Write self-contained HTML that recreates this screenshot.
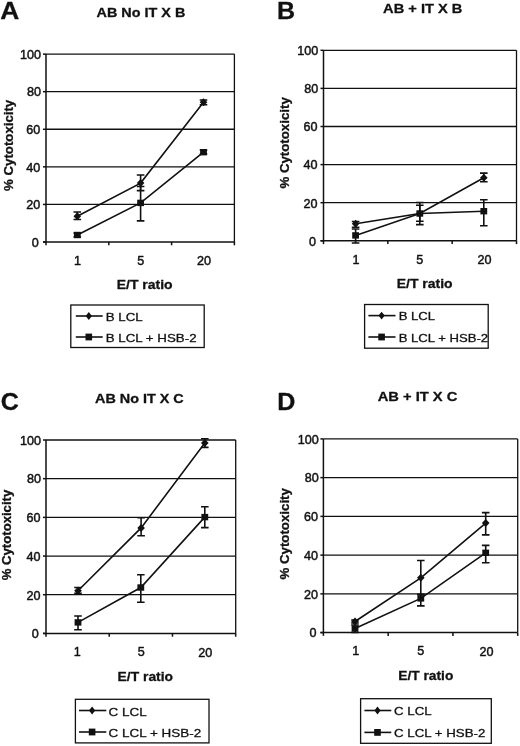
<!DOCTYPE html>
<html><head><meta charset="utf-8"><title>Cytotoxicity figure</title>
<style>
html,body{margin:0;padding:0;background:#fff;}
body{width:520px;height:746px;overflow:hidden;}
svg{display:block;will-change:transform;}
text{font-family:"Liberation Sans", sans-serif;fill:#111;stroke:#111;stroke-width:0.3px;stroke-linejoin:round;}
.tk{font-size:12.6px;stroke-width:0.45px;}
.b13{font-size:13px;font-weight:bold;}
.big{font-size:24.4px;font-weight:bold;}
.lg{font-size:11.6px;}
.g{stroke:#111;stroke-width:1.3;fill:none;}
.ax{stroke:#111;stroke-width:1.5;fill:none;}
.s{stroke:#111;stroke-width:1.6;fill:none;}
.e{stroke:#111;stroke-width:1.6;fill:none;}
.m{fill:#111;stroke:none;}
.lb{fill:none;stroke:#111;stroke-width:1.3;}
</style></head>
<body>
<svg width="520" height="746" viewBox="0 0 520 746">
<line x1="46" y1="204.42" x2="234.4" y2="204.42" class="g"/>
<line x1="46" y1="166.84" x2="234.4" y2="166.84" class="g"/>
<line x1="46" y1="129.26" x2="234.4" y2="129.26" class="g"/>
<line x1="46" y1="91.68" x2="234.4" y2="91.68" class="g"/>
<line x1="46" y1="54.1" x2="234.4" y2="54.1" class="g"/>
<line x1="234.4" y1="54.1" x2="234.4" y2="242" class="g"/>
<line x1="46" y1="54.1" x2="46" y2="245.3" class="ax"/>
<line x1="43" y1="242" x2="234.4" y2="242" class="ax"/>
<line x1="43" y1="242" x2="46" y2="242" class="ax"/>
<text x="31.7" y="246.8" class="tk">0</text>
<line x1="43" y1="204.42" x2="46" y2="204.42" class="ax"/>
<text x="26.3" y="209.22" class="tk">20</text>
<line x1="43" y1="166.84" x2="46" y2="166.84" class="ax"/>
<text x="26.3" y="171.64" class="tk">40</text>
<line x1="43" y1="129.26" x2="46" y2="129.26" class="ax"/>
<text x="26.3" y="134.06" class="tk">60</text>
<line x1="43" y1="91.68" x2="46" y2="91.68" class="ax"/>
<text x="27" y="96.48" class="tk">80</text>
<line x1="43" y1="54.1" x2="46" y2="54.1" class="ax"/>
<text x="20" y="58.9" class="tk">100</text>
<line x1="108.8" y1="242" x2="108.8" y2="245.3" class="ax"/>
<line x1="171.6" y1="242" x2="171.6" y2="245.3" class="ax"/>
<line x1="234.4" y1="242" x2="234.4" y2="245.3" class="ax"/>
<text x="73.9" y="265.3" class="tk">1</text>
<text x="137.2" y="265.3" class="tk">5</text>
<text x="197" y="265.2" class="tk">20</text>
<text x="116.73" y="288.8" class="b13" textLength="55.89" lengthAdjust="spacingAndGlyphs">E/T ratio</text>
<text transform="translate(12.5,190.9) rotate(-90)" x="-0" y="0" class="b13" textLength="91.09" lengthAdjust="spacingAndGlyphs">% Cytotoxicity</text>
<text x="0.32" y="19.3" class="big" textLength="19.06" lengthAdjust="spacingAndGlyphs">A</text>
<text x="96.6" y="17.3" class="b13" textLength="88.69" lengthAdjust="spacingAndGlyphs">AB No IT X B</text>
<polyline class="s" points="77.3,216.2 140.6,183.1 203.5,102.3"/>
<polyline class="s" points="77.3,235 140.6,202.9 203.5,152.2"/>
<path class="e" d="M77.3 212V219.5M73.5 212H81.1M73.5 219.5H81.1"/>
<path class="e" d="M140.6 175V190.6M136.8 175H144.4M136.8 190.6H144.4"/>
<path class="e" d="M203.5 100V104.8M199.7 100H207.3M199.7 104.8H207.3"/>
<path class="e" d="M77.3 233V237M73.5 233H81.1M73.5 237H81.1"/>
<path class="e" d="M140.6 186.5V220.9M136.8 186.5H144.4M136.8 220.9H144.4"/>
<path class="e" d="M203.5 150V154M199.7 150H207.3M199.7 154H207.3"/>
<path class="m" d="M77.3 212.2L81.1 216.2L77.3 220.2L73.5 216.2Z"/>
<path class="m" d="M140.6 179.1L144.4 183.1L140.6 187.1L136.8 183.1Z"/>
<path class="m" d="M203.5 98.3L207.3 102.3L203.5 106.3L199.7 102.3Z"/>
<rect class="m" x="73.9" y="231.8" width="6.8" height="6.4"/>
<rect class="m" x="137.2" y="199.7" width="6.8" height="6.4"/>
<rect class="m" x="200.1" y="149" width="6.8" height="6.4"/>
<rect x="70.8" y="305" width="133.4" height="42.5" class="lb"/>
<line x1="75.8" y1="316" x2="102.7" y2="316" class="s"/>
<line x1="75.8" y1="337" x2="102.7" y2="337" class="s"/>
<path class="m" d="M88.8 312.1L91.9 316L88.8 319.9L85.7 316Z"/>
<rect class="m" x="85.5" y="333.6" width="6.6" height="6.8"/>
<text x="105.65" y="320.8" class="lg" textLength="37.03" lengthAdjust="spacingAndGlyphs">B LCL</text>
<text x="105.65" y="342.1" class="lg" textLength="90.93" lengthAdjust="spacingAndGlyphs">B LCL + HSB-2</text>
<line x1="323.5" y1="202.7" x2="516.5" y2="202.7" class="g"/>
<line x1="323.5" y1="164.6" x2="516.5" y2="164.6" class="g"/>
<line x1="323.5" y1="126.5" x2="516.5" y2="126.5" class="g"/>
<line x1="323.5" y1="88.4" x2="516.5" y2="88.4" class="g"/>
<line x1="323.5" y1="50.3" x2="516.5" y2="50.3" class="g"/>
<line x1="516.5" y1="50.3" x2="516.5" y2="240.8" class="g"/>
<line x1="323.5" y1="50.3" x2="323.5" y2="244.1" class="ax"/>
<line x1="320.5" y1="240.8" x2="516.5" y2="240.8" class="ax"/>
<line x1="320.5" y1="240.8" x2="323.5" y2="240.8" class="ax"/>
<text x="309" y="245.6" class="tk">0</text>
<line x1="320.5" y1="202.7" x2="323.5" y2="202.7" class="ax"/>
<text x="303.6" y="207.5" class="tk">20</text>
<line x1="320.5" y1="164.6" x2="323.5" y2="164.6" class="ax"/>
<text x="303.6" y="169.4" class="tk">40</text>
<line x1="320.5" y1="126.5" x2="323.5" y2="126.5" class="ax"/>
<text x="303.6" y="131.3" class="tk">60</text>
<line x1="320.5" y1="88.4" x2="323.5" y2="88.4" class="ax"/>
<text x="304.3" y="93.2" class="tk">80</text>
<line x1="320.5" y1="50.3" x2="323.5" y2="50.3" class="ax"/>
<text x="297.3" y="55.1" class="tk">100</text>
<line x1="387.83" y1="240.8" x2="387.83" y2="244.1" class="ax"/>
<line x1="452.17" y1="240.8" x2="452.17" y2="244.1" class="ax"/>
<line x1="516.5" y1="240.8" x2="516.5" y2="244.1" class="ax"/>
<text x="352.4" y="263.7" class="tk">1</text>
<text x="416.3" y="263.7" class="tk">5</text>
<text x="477.6" y="263.7" class="tk">20</text>
<text x="396.73" y="288.2" class="b13" textLength="55.89" lengthAdjust="spacingAndGlyphs">E/T ratio</text>
<text transform="translate(288.6,188.6) rotate(-90)" x="-0" y="0" class="b13" textLength="91.39" lengthAdjust="spacingAndGlyphs">% Cytotoxicity</text>
<text x="277.05" y="18.6" class="big" textLength="18.09" lengthAdjust="spacingAndGlyphs">B</text>
<text x="383.1" y="12.5" class="b13" textLength="79.29" lengthAdjust="spacingAndGlyphs">AB + IT X B</text>
<polyline class="s" points="355.6,223.8 419.8,213.5 483.8,177.7"/>
<polyline class="s" points="355.6,235.4 419.8,213.5 483.8,211.2"/>
<path class="e" d="M355.6 221.5V227.3M351.8 221.5H359.4M351.8 227.3H359.4"/>
<path class="e" d="M419.8 205.2V221.3M416 205.2H423.6M416 221.3H423.6"/>
<path class="e" d="M483.8 173.1V181.8M480 173.1H487.6M480 181.8H487.6"/>
<path class="e" d="M355.6 229V243M351.8 229H359.4M351.8 243H359.4"/>
<path class="e" d="M419.8 202.5V224.6M416 202.5H423.6M416 224.6H423.6"/>
<path class="e" d="M483.8 199.7V225.8M480 199.7H487.6M480 225.8H487.6"/>
<path class="m" d="M355.6 219.8L359.4 223.8L355.6 227.8L351.8 223.8Z"/>
<path class="m" d="M419.8 209.5L423.6 213.5L419.8 217.5L416 213.5Z"/>
<path class="m" d="M483.8 173.7L487.6 177.7L483.8 181.7L480 177.7Z"/>
<rect class="m" x="352.2" y="232.2" width="6.8" height="6.4"/>
<rect class="m" x="416.4" y="210.3" width="6.8" height="6.4"/>
<rect class="m" x="480.4" y="208" width="6.8" height="6.4"/>
<rect x="364.6" y="304.5" width="123.6" height="43.7" class="lb"/>
<line x1="368.4" y1="315.6" x2="395.5" y2="315.6" class="s"/>
<line x1="368.4" y1="337" x2="395.5" y2="337" class="s"/>
<path class="m" d="M381.6 311.7L384.7 315.6L381.6 319.5L378.5 315.6Z"/>
<rect class="m" x="378.3" y="333.6" width="6.6" height="6.8"/>
<text x="398.67" y="320.1" class="lg" textLength="36.45" lengthAdjust="spacingAndGlyphs">B LCL</text>
<text x="398.67" y="342.3" class="lg" textLength="89.51" lengthAdjust="spacingAndGlyphs">B LCL + HSB-2</text>
<line x1="46" y1="594.72" x2="235.7" y2="594.72" class="g"/>
<line x1="46" y1="556.04" x2="235.7" y2="556.04" class="g"/>
<line x1="46" y1="517.36" x2="235.7" y2="517.36" class="g"/>
<line x1="46" y1="478.68" x2="235.7" y2="478.68" class="g"/>
<line x1="46" y1="440" x2="235.7" y2="440" class="g"/>
<line x1="235.7" y1="440" x2="235.7" y2="633.4" class="g"/>
<line x1="46" y1="440" x2="46" y2="636.7" class="ax"/>
<line x1="43" y1="633.4" x2="235.7" y2="633.4" class="ax"/>
<line x1="43" y1="633.4" x2="46" y2="633.4" class="ax"/>
<text x="31.8" y="638.2" class="tk">0</text>
<line x1="43" y1="594.72" x2="46" y2="594.72" class="ax"/>
<text x="26.4" y="599.52" class="tk">20</text>
<line x1="43" y1="556.04" x2="46" y2="556.04" class="ax"/>
<text x="26.4" y="560.84" class="tk">40</text>
<line x1="43" y1="517.36" x2="46" y2="517.36" class="ax"/>
<text x="26.4" y="522.16" class="tk">60</text>
<line x1="43" y1="478.68" x2="46" y2="478.68" class="ax"/>
<text x="27.1" y="483.48" class="tk">80</text>
<line x1="43" y1="440" x2="46" y2="440" class="ax"/>
<text x="20.1" y="444.8" class="tk">100</text>
<line x1="109.23" y1="633.4" x2="109.23" y2="636.7" class="ax"/>
<line x1="172.47" y1="633.4" x2="172.47" y2="636.7" class="ax"/>
<line x1="235.7" y1="633.4" x2="235.7" y2="636.7" class="ax"/>
<text x="73.8" y="656.3" class="tk">1</text>
<text x="137.7" y="656.3" class="tk">5</text>
<text x="198.2" y="656.5" class="tk">20</text>
<text x="117.64" y="680.9" class="b13" textLength="55.38" lengthAdjust="spacingAndGlyphs">E/T ratio</text>
<text transform="translate(11.2,580.3) rotate(-90)" x="-0" y="0" class="b13" textLength="90.58" lengthAdjust="spacingAndGlyphs">% Cytotoxicity</text>
<text x="0.87" y="410" class="big" textLength="18.07" lengthAdjust="spacingAndGlyphs">C</text>
<text x="95" y="403" class="b13" textLength="88.69" lengthAdjust="spacingAndGlyphs">AB No IT X C</text>
<polyline class="s" points="78,590.7 141.1,527.9 204.8,443.1"/>
<polyline class="s" points="78,622.4 140.8,587.5 204.8,517.1"/>
<path class="e" d="M78 587.5V593.4M74.2 587.5H81.8M74.2 593.4H81.8"/>
<path class="e" d="M141.1 517.8V535.8M137.3 517.8H144.9M137.3 535.8H144.9"/>
<path class="e" d="M204.8 438.7V447.4M201 438.7H208.6M201 447.4H208.6"/>
<path class="e" d="M78 616V629.8M74.2 616H81.8M74.2 629.8H81.8"/>
<path class="e" d="M140.8 574.8V602.3M137 574.8H144.6M137 602.3H144.6"/>
<path class="e" d="M204.8 506.7V527.6M201 506.7H208.6M201 527.6H208.6"/>
<path class="m" d="M78 586.7L81.8 590.7L78 594.7L74.2 590.7Z"/>
<path class="m" d="M141.1 523.9L144.9 527.9L141.1 531.9L137.3 527.9Z"/>
<path class="m" d="M204.8 439.1L208.6 443.1L204.8 447.1L201 443.1Z"/>
<rect class="m" x="74.6" y="619.2" width="6.8" height="6.4"/>
<rect class="m" x="137.4" y="584.3" width="6.8" height="6.4"/>
<rect class="m" x="201.4" y="513.9" width="6.8" height="6.4"/>
<rect x="75.4" y="699.3" width="133.6" height="43.6" class="lb"/>
<line x1="79" y1="710.5" x2="106.3" y2="710.5" class="s"/>
<line x1="79" y1="732" x2="106.3" y2="732" class="s"/>
<path class="m" d="M92.1 706.6L95.2 710.5L92.1 714.4L89 710.5Z"/>
<rect class="m" x="88.8" y="728.6" width="6.6" height="6.8"/>
<text x="108.64" y="715.5" class="lg" textLength="38.12" lengthAdjust="spacingAndGlyphs">C LCL</text>
<text x="108.64" y="737.4" class="lg" textLength="92.53" lengthAdjust="spacingAndGlyphs">C LCL + HSB-2</text>
<line x1="323.4" y1="593.86" x2="517.7" y2="593.86" class="g"/>
<line x1="323.4" y1="555.12" x2="517.7" y2="555.12" class="g"/>
<line x1="323.4" y1="516.38" x2="517.7" y2="516.38" class="g"/>
<line x1="323.4" y1="477.64" x2="517.7" y2="477.64" class="g"/>
<line x1="323.4" y1="438.9" x2="517.7" y2="438.9" class="g"/>
<line x1="517.7" y1="438.9" x2="517.7" y2="632.6" class="g"/>
<line x1="323.4" y1="438.9" x2="323.4" y2="635.9" class="ax"/>
<line x1="320.4" y1="632.6" x2="517.7" y2="632.6" class="ax"/>
<line x1="320.4" y1="632.6" x2="323.4" y2="632.6" class="ax"/>
<text x="309.5" y="637.4" class="tk">0</text>
<line x1="320.4" y1="593.86" x2="323.4" y2="593.86" class="ax"/>
<text x="304.1" y="598.66" class="tk">20</text>
<line x1="320.4" y1="555.12" x2="323.4" y2="555.12" class="ax"/>
<text x="304.1" y="559.92" class="tk">40</text>
<line x1="320.4" y1="516.38" x2="323.4" y2="516.38" class="ax"/>
<text x="304.1" y="521.18" class="tk">60</text>
<line x1="320.4" y1="477.64" x2="323.4" y2="477.64" class="ax"/>
<text x="304.8" y="482.44" class="tk">80</text>
<line x1="320.4" y1="438.9" x2="323.4" y2="438.9" class="ax"/>
<text x="297.8" y="443.7" class="tk">100</text>
<line x1="388.17" y1="632.6" x2="388.17" y2="635.9" class="ax"/>
<line x1="452.93" y1="632.6" x2="452.93" y2="635.9" class="ax"/>
<line x1="517.7" y1="632.6" x2="517.7" y2="635.9" class="ax"/>
<text x="352.2" y="655.4" class="tk">1</text>
<text x="417.3" y="655.4" class="tk">5</text>
<text x="479.4" y="655.7" class="tk">20</text>
<text x="398.34" y="680.2" class="b13" textLength="54.97" lengthAdjust="spacingAndGlyphs">E/T ratio</text>
<text transform="translate(289.3,579.5) rotate(-90)" x="-0" y="0" class="b13" textLength="91.39" lengthAdjust="spacingAndGlyphs">% Cytotoxicity</text>
<text x="277.35" y="409.8" class="big" textLength="18.1" lengthAdjust="spacingAndGlyphs">D</text>
<text x="377.7" y="401" class="b13" textLength="79.69" lengthAdjust="spacingAndGlyphs">AB + IT X C</text>
<polyline class="s" points="355,621.5 420.8,577.8 485.7,523.1"/>
<polyline class="s" points="355,628.6 420.8,598.4 485.7,552.8"/>
<path class="e" d="M355 620V623M351.2 620H358.8M351.2 623H358.8"/>
<path class="e" d="M420.8 560.5V594.5M417 560.5H424.6M417 594.5H424.6"/>
<path class="e" d="M485.7 512.6V534.9M481.9 512.6H489.5M481.9 534.9H489.5"/>
<path class="e" d="M355 625V632.5M351.2 625H358.8M351.2 632.5H358.8"/>
<path class="e" d="M420.8 594.5V605.9M417 594.5H424.6M417 605.9H424.6"/>
<path class="e" d="M485.7 545.4V562.8M481.9 545.4H489.5M481.9 562.8H489.5"/>
<path class="m" d="M355 617.5L358.8 621.5L355 625.5L351.2 621.5Z"/>
<path class="m" d="M420.8 573.8L424.6 577.8L420.8 581.8L417 577.8Z"/>
<path class="m" d="M485.7 519.1L489.5 523.1L485.7 527.1L481.9 523.1Z"/>
<rect class="m" x="351.6" y="625.4" width="6.8" height="6.4"/>
<rect class="m" x="417.4" y="595.2" width="6.8" height="6.4"/>
<rect class="m" x="482.3" y="549.6" width="6.8" height="6.4"/>
<rect x="360.6" y="698.7" width="130.7" height="44.6" class="lb"/>
<line x1="364.4" y1="710.5" x2="391.3" y2="710.5" class="s"/>
<line x1="364.4" y1="732.4" x2="391.3" y2="732.4" class="s"/>
<path class="m" d="M377.5 706.6L380.6 710.5L377.5 714.4L374.4 710.5Z"/>
<rect class="m" x="374.2" y="729" width="6.6" height="6.8"/>
<text x="394.06" y="714.8" class="lg" textLength="37.6" lengthAdjust="spacingAndGlyphs">C LCL</text>
<text x="394.06" y="737.1" class="lg" textLength="91.25" lengthAdjust="spacingAndGlyphs">C LCL + HSB-2</text>
</svg>
</body></html>
